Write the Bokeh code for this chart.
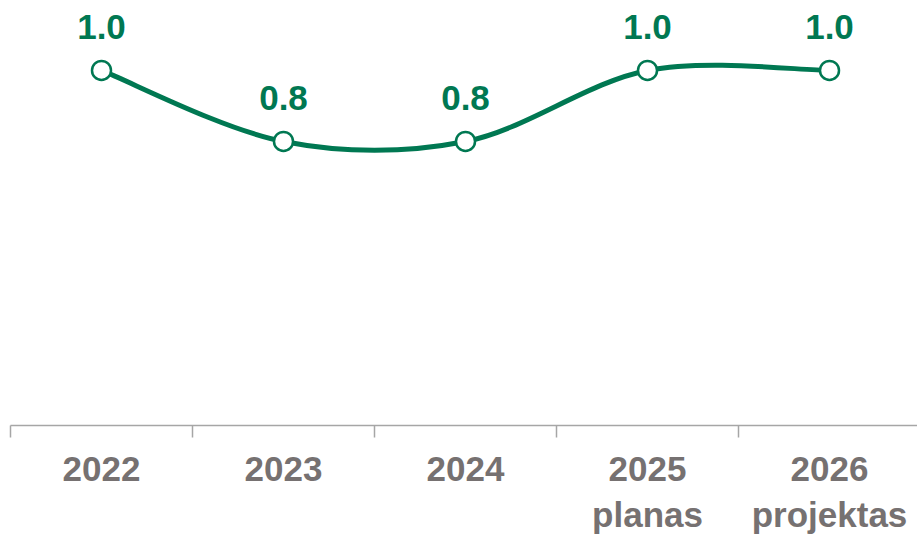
from bokeh.plotting import figure
from bokeh.models import Range1d, FixedTicker, ColumnDataSource, LabelSet
from bokeh.core.properties import value
from bokeh.embed import file_html
from bokeh.resources import INLINE

categories = ["2022", "2023", "2024", "2025\nplanas", "2026\nprojektas"]
values = [1.0, 0.8, 0.8, 1.0, 1.0]
value_labels = ["1.0", "0.8", "0.8", "1.0", "1.0"]

GREEN = "#007852"
GRAY = "#767171"
FONT = "Liberation Sans"

xs = list(range(len(values)))

p = figure(frame_width=907, frame_height=425, output_backend="svg", toolbar_location=None,
           x_range=Range1d(-0.5, 4.4835), y_range=Range1d(0, 1.197),
           min_border_left=10, min_border_right=0, min_border_top=0, min_border_bottom=0)
p.outline_line_color = None
p.grid.visible = False
p.yaxis.visible = False
p.background_fill_color = "white"
p.border_fill_color = "white"

ax = p.xaxis[0]
ax.ticker = FixedTicker(ticks=xs, minor_ticks=[i - 0.5 for i in range(len(values) + 1)])
ax.major_label_overrides = {i: c for i, c in enumerate(categories)}
ax.major_tick_line_color = None
ax.major_tick_out = 0
ax.major_tick_in = 0
ax.minor_tick_out = 12
ax.minor_tick_in = 0
ax.minor_tick_line_color = "#A6A6A6"
ax.minor_tick_line_width = 1.5
ax.axis_line_color = "#A6A6A6"
ax.axis_line_width = 1.5
ax.major_label_text_font = FONT
ax.major_label_text_font_style = "bold"
ax.major_label_text_font_size = "35px"
ax.major_label_text_color = GRAY
ax.major_label_standoff = 11

# smooth line (Catmull-Rom style bezier segments through data points)
n = len(values)
x0, y0, x1, y1, cx0, cy0, cx1, cy1 = [], [], [], [], [], [], [], []
for i in range(n - 1):
    pm = max(i - 1, 0)
    pp = min(i + 2, n - 1)
    x0.append(xs[i]); y0.append(values[i])
    x1.append(xs[i + 1]); y1.append(values[i + 1])
    cx0.append(xs[i] + (xs[i + 1] - xs[pm]) / 6)
    cy0.append(values[i] + (values[i + 1] - values[pm]) / 6)
    cx1.append(xs[i + 1] - (xs[pp] - xs[i]) / 6)
    cy1.append(values[i + 1] - (values[pp] - values[i]) / 6)

p.bezier(x0=x0, y0=y0, x1=x1, y1=y1, cx0=cx0, cy0=cy0, cx1=cx1, cy1=cy1,
         line_color=GREEN, line_width=5)

src = ColumnDataSource(dict(x=xs, y=values, t=value_labels))
p.scatter("x", "y", source=src, size=19, fill_color="white", line_color=GREEN, line_width=2.5)

labels = LabelSet(x="x", y="y", text="t", source=src, y_offset=31,
                  text_align="center", text_baseline="alphabetic",
                  text_font=value(FONT), text_font_style="bold", text_font_size="35px",
                  text_color=GREEN)
p.add_layout(labels)

open("out.html", "w").write(file_html(p, INLINE))
